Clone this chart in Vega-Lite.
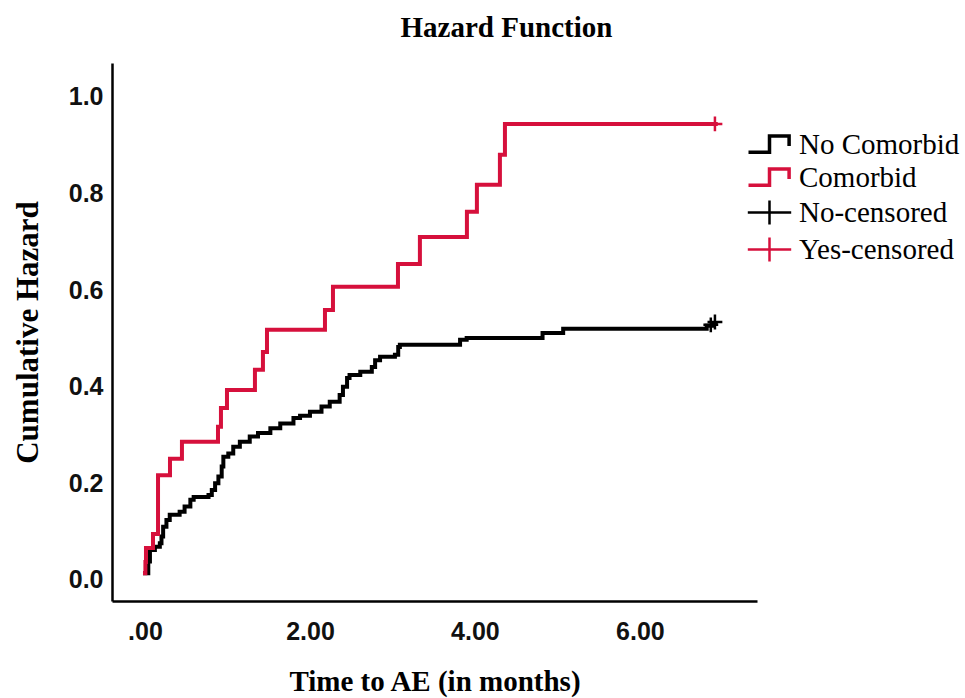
{
  "$schema": "https://vega.github.io/schema/vega-lite/v6.json",
  "width": 645,
  "height": 538,
  "autosize": {"type": "none"},
  "padding": {"left": 112, "top": 63, "right": 208, "bottom": 97},
  "background": "white",
  "config": {"view": {"stroke": null}},
  "title": {"text": "Hazard Function", "font": "Liberation Serif", "fontSize": 29, "fontWeight": "bold", "color": "#000000", "dx": 72, "offset": 20, "anchor": "middle"},
  "datasets": {
    "curves": [
      {"group": "No Comorbid", "t": 0.00, "h": 0.014},
      {"group": "No Comorbid", "t": 0.04, "h": 0.038},
      {"group": "No Comorbid", "t": 0.06, "h": 0.062},
      {"group": "No Comorbid", "t": 0.12, "h": 0.069},
      {"group": "No Comorbid", "t": 0.18, "h": 0.076},
      {"group": "No Comorbid", "t": 0.20, "h": 0.090},
      {"group": "No Comorbid", "t": 0.22, "h": 0.110},
      {"group": "No Comorbid", "t": 0.26, "h": 0.124},
      {"group": "No Comorbid", "t": 0.30, "h": 0.135},
      {"group": "No Comorbid", "t": 0.42, "h": 0.141},
      {"group": "No Comorbid", "t": 0.48, "h": 0.152},
      {"group": "No Comorbid", "t": 0.55, "h": 0.166},
      {"group": "No Comorbid", "t": 0.59, "h": 0.172},
      {"group": "No Comorbid", "t": 0.77, "h": 0.176},
      {"group": "No Comorbid", "t": 0.81, "h": 0.186},
      {"group": "No Comorbid", "t": 0.85, "h": 0.200},
      {"group": "No Comorbid", "t": 0.89, "h": 0.214},
      {"group": "No Comorbid", "t": 0.93, "h": 0.235},
      {"group": "No Comorbid", "t": 0.95, "h": 0.255},
      {"group": "No Comorbid", "t": 1.01, "h": 0.262},
      {"group": "No Comorbid", "t": 1.07, "h": 0.276},
      {"group": "No Comorbid", "t": 1.15, "h": 0.286},
      {"group": "No Comorbid", "t": 1.27, "h": 0.297},
      {"group": "No Comorbid", "t": 1.37, "h": 0.304},
      {"group": "No Comorbid", "t": 1.52, "h": 0.314},
      {"group": "No Comorbid", "t": 1.64, "h": 0.324},
      {"group": "No Comorbid", "t": 1.80, "h": 0.335},
      {"group": "No Comorbid", "t": 1.88, "h": 0.340},
      {"group": "No Comorbid", "t": 2.00, "h": 0.348},
      {"group": "No Comorbid", "t": 2.14, "h": 0.359},
      {"group": "No Comorbid", "t": 2.24, "h": 0.369},
      {"group": "No Comorbid", "t": 2.36, "h": 0.383},
      {"group": "No Comorbid", "t": 2.40, "h": 0.400},
      {"group": "No Comorbid", "t": 2.45, "h": 0.418},
      {"group": "No Comorbid", "t": 2.48, "h": 0.424},
      {"group": "No Comorbid", "t": 2.61, "h": 0.431},
      {"group": "No Comorbid", "t": 2.75, "h": 0.441},
      {"group": "No Comorbid", "t": 2.79, "h": 0.455},
      {"group": "No Comorbid", "t": 2.85, "h": 0.462},
      {"group": "No Comorbid", "t": 3.03, "h": 0.466},
      {"group": "No Comorbid", "t": 3.07, "h": 0.482},
      {"group": "No Comorbid", "t": 3.09, "h": 0.487},
      {"group": "No Comorbid", "t": 3.82, "h": 0.497},
      {"group": "No Comorbid", "t": 3.90, "h": 0.501},
      {"group": "No Comorbid", "t": 4.82, "h": 0.511},
      {"group": "No Comorbid", "t": 5.07, "h": 0.520},
      {"group": "No Comorbid", "t": 6.81, "h": 0.526},
      {"group": "No Comorbid", "t": 6.88, "h": 0.532},
      {"group": "No Comorbid", "t": 6.92, "h": 0.532},
      {"group": "Comorbid", "t": 0.000, "h": 0.014},
      {"group": "Comorbid", "t": 0.005, "h": 0.037},
      {"group": "Comorbid", "t": 0.012, "h": 0.066},
      {"group": "Comorbid", "t": 0.097, "h": 0.095},
      {"group": "Comorbid", "t": 0.158, "h": 0.217},
      {"group": "Comorbid", "t": 0.303, "h": 0.251},
      {"group": "Comorbid", "t": 0.448, "h": 0.286},
      {"group": "Comorbid", "t": 0.885, "h": 0.317},
      {"group": "Comorbid", "t": 0.921, "h": 0.356},
      {"group": "Comorbid", "t": 0.994, "h": 0.393},
      {"group": "Comorbid", "t": 1.333, "h": 0.435},
      {"group": "Comorbid", "t": 1.430, "h": 0.472},
      {"group": "Comorbid", "t": 1.479, "h": 0.518},
      {"group": "Comorbid", "t": 2.182, "h": 0.559},
      {"group": "Comorbid", "t": 2.279, "h": 0.607},
      {"group": "Comorbid", "t": 3.067, "h": 0.654},
      {"group": "Comorbid", "t": 3.333, "h": 0.710},
      {"group": "Comorbid", "t": 3.903, "h": 0.762},
      {"group": "Comorbid", "t": 4.024, "h": 0.818},
      {"group": "Comorbid", "t": 4.303, "h": 0.880},
      {"group": "Comorbid", "t": 4.364, "h": 0.944},
      {"group": "Comorbid", "t": 6.920, "h": 0.944}
    ],
    "censored": [
      {"group": "No-censored", "t": 6.86, "h": 0.528},
      {"group": "No-censored", "t": 6.91, "h": 0.534},
      {"group": "Yes-censored", "t": 6.91, "h": 0.944}
    ]
  },
  "layer": [
    {
      "data": {"name": "curves"},
      "mark": {"type": "line", "interpolate": "step-after", "strokeWidth": 4, "strokeJoin": "miter", "strokeCap": "square"},
      "encoding": {
        "x": {"field": "t", "type": "quantitative"},
        "y": {"field": "h", "type": "quantitative"},
        "color": {"field": "group", "type": "nominal"},
        "detail": {"field": "group"}
      }
    },
    {
      "data": {"name": "censored"},
      "mark": {"type": "point", "shape": "M-1,0H1M0,-1V1", "filled": false, "size": 220, "strokeWidth": 2.5, "opacity": 1},
      "encoding": {
        "x": {"field": "t", "type": "quantitative"},
        "y": {"field": "h", "type": "quantitative"},
        "color": {"field": "group", "type": "nominal"}
      }
    }
  ],
  "resolve": {"scale": {"color": "shared"}},
  "encoding": {
    "x": {
      "field": "t", "type": "quantitative",
      "scale": {"domain": [-0.4, 7.42], "nice": false, "zero": false},
      "axis": {
        "title": "Time to AE (in months)",
        "values": [0, 2, 4, 6],
        "labelExpr": "datum.value == 0 ? '.00' : format(datum.value, '.2f')",
        "grid": false, "ticks": false,
        "domainColor": "#000000", "domainWidth": 2.5,
        "labelFont": "Liberation Sans", "labelFontWeight": "bold", "labelFontSize": 25, "labelColor": "#111111",
        "labelPadding": 18,
        "titleFont": "Liberation Serif", "titleFontWeight": "bold", "titleFontSize": 29, "titleColor": "#000000",
        "titlePadding": 23
      }
    },
    "y": {
      "field": "h", "type": "quantitative",
      "scale": {"domain": [-0.0435, 1.07], "nice": false, "zero": false},
      "axis": {
        "title": "Cumulative Hazard",
        "values": [0, 0.2, 0.4, 0.6, 0.8, 1.0],
        "format": ".1f",
        "grid": false, "ticks": false,
        "domainColor": "#000000", "domainWidth": 2.5,
        "labelFont": "Liberation Sans", "labelFontWeight": "bold", "labelFontSize": 25, "labelColor": "#111111",
        "labelPadding": 9,
        "titleFont": "Liberation Serif", "titleFontWeight": "bold", "titleFontSize": 31, "titleColor": "#000000",
        "titlePadding": 24
      }
    },
    "color": {
      "field": "group", "type": "nominal",
      "scale": {"domain": ["No Comorbid", "Comorbid", "No-censored", "Yes-censored"], "range": ["#000000", "#d6103c", "#000000", "#d6103c"]},
      "legend": {
        "title": null,
        "orient": "none",
        "legendX": 643,
        "legendY": 67,
        "padding": 0,
        "symbolSize": 784,
        "symbolStrokeWidth": 3.5,
        "symbolFillColor": "transparent",
        "labelFont": "Liberation Serif",
        "labelFontSize": 29,
        "labelColor": "#000000",
        "labelOffset": 15,
        "labelLimit": 300,
        "rowPadding": 2,
        "encode": {
          "symbols": {
            "update": {
              "shape": {"signal": "indexof(['No Comorbid','Comorbid'], datum.value) >= 0 ? 'M-1.5,0.55H0V-0.6H1.4V0.1' : 'M-1.55,0H1.55M0,-0.85V0.85'"},
              "fill": {"value": "transparent"},
              "strokeWidth": {"signal": "indexof(['No Comorbid','Comorbid'], datum.value) >= 0 ? 3.5 : 2.5"}
            }
          }
        }
      }
    }
  }
}
